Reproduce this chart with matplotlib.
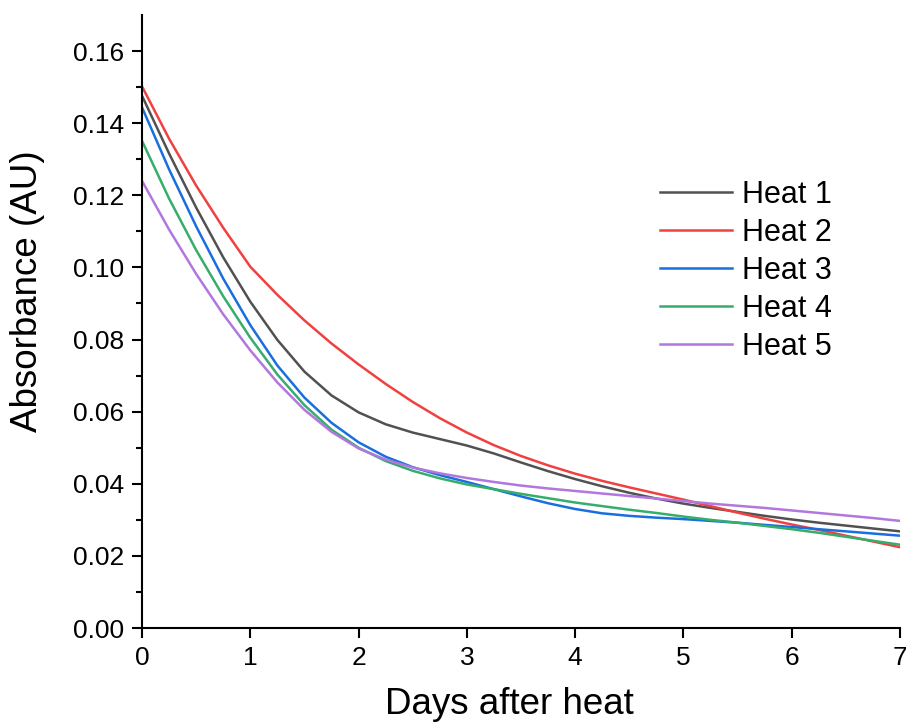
import matplotlib
matplotlib.use("Agg")
import matplotlib.pyplot as plt
import numpy as np

plt.rcParams['font.family'] = ['Liberation Sans', 'DejaVu Sans']

# days after heat, read every quarter day off the original chart
days = [0, 0.25, 0.5, 0.75, 1, 1.25, 1.5, 1.75, 2, 2.25, 2.5, 2.75, 3, 3.25, 3.5,
        3.75, 4, 4.25, 4.5, 4.75, 5, 5.25, 5.5, 5.75, 6, 6.25, 6.5, 6.75, 7]

heat1 = [0.1476, 0.1316, 0.1166, 0.1028, 0.0905, 0.0799, 0.0711, 0.0645, 0.0598, 0.0565,
         0.0542, 0.0524, 0.0506, 0.0484, 0.0459, 0.0435, 0.0413, 0.0393, 0.0375, 0.0359,
         0.0345, 0.0333, 0.0322, 0.0311, 0.0301, 0.0292, 0.0284, 0.0276, 0.0268]
heat2 = [0.1502, 0.1357, 0.1227, 0.1110, 0.1002, 0.0924, 0.0853, 0.0789, 0.0731, 0.0677,
         0.0627, 0.0582, 0.0542, 0.0507, 0.0477, 0.0451, 0.0428, 0.0408, 0.0390, 0.0373,
         0.0356, 0.0338, 0.0320, 0.0303, 0.0287, 0.0272, 0.0256, 0.0240, 0.0224]
heat3 = [0.1444, 0.1272, 0.1114, 0.0969, 0.0840, 0.0728, 0.0639, 0.0569, 0.0515, 0.0475,
         0.0446, 0.0424, 0.0405, 0.0385, 0.0365, 0.0346, 0.0330, 0.0318, 0.0311, 0.0306,
         0.0302, 0.0297, 0.0292, 0.0286, 0.0280, 0.0274, 0.0268, 0.0262, 0.0256]
heat4 = [0.1351, 0.1191, 0.1048, 0.0920, 0.0805, 0.0703, 0.0618, 0.0550, 0.0500, 0.0463,
         0.0436, 0.0415, 0.0398, 0.0385, 0.0372, 0.0360, 0.0348, 0.0338, 0.0328, 0.0319,
         0.0309, 0.0300, 0.0292, 0.0283, 0.0274, 0.0264, 0.0253, 0.0242, 0.0231]
heat5 = [0.1240, 0.1105, 0.0982, 0.0870, 0.0770, 0.0681, 0.0605, 0.0544, 0.0498, 0.0467,
         0.0445, 0.0429, 0.0416, 0.0405, 0.0395, 0.0387, 0.0380, 0.0373, 0.0366, 0.0359,
         0.0352, 0.0345, 0.0339, 0.0333, 0.0326, 0.0319, 0.0312, 0.0305, 0.0297]

labels = ["Heat 1", "Heat 2", "Heat 3", "Heat 4", "Heat 5"]
colors = ["#515151", "#F14040", "#1A6FDF", "#37AD6B", "#B177DE"]

fig = plt.figure(figsize=(9.06, 7.22), dpi=100)
ax = fig.add_axes([142/906, 1 - 628/722, (900-142)/906, (628-15)/722])

for ys, lab, c in zip([heat1, heat2, heat3, heat4, heat5], labels, colors):
    ax.plot(days, ys, color=c, lw=1.8, label=lab, solid_joinstyle='round')

ax.set_xlim(0, 7)
ax.set_ylim(0, 0.17)
ax.set_xticks(range(8))
ax.set_yticks(np.arange(0, 0.161, 0.02))
ax.set_yticks(np.arange(0.01, 0.17, 0.02), minor=True)
ax.yaxis.set_major_formatter(matplotlib.ticker.FormatStrFormatter('%.2f'))

for s in ['top', 'right']:
    ax.spines[s].set_visible(False)
for s in ['left', 'bottom']:
    ax.spines[s].set_linewidth(1.5)

ax.tick_params(which='major', direction='out', length=7, width=1.5, labelsize=19, pad=6)
ax.tick_params(which='minor', direction='out', length=4, width=1.5)

ax.set_xlabel("Days after heat", fontsize=26.5, va='top')
ax.set_ylabel("Absorbance (AU)", fontsize=26.5)
ax.xaxis.set_label_coords(0.485, -0.096)
ax.yaxis.set_label_coords(-0.128, 0.55)

ax.legend(loc='upper left', bbox_to_anchor=(660/906, 1 - 180/722),
          bbox_transform=fig.transFigure, frameon=False, fontsize=22,
          handlelength=2.35, handletextpad=0.33, labelspacing=0.26,
          borderpad=0, borderaxespad=0)

fig.savefig("out.png", dpi=100)
